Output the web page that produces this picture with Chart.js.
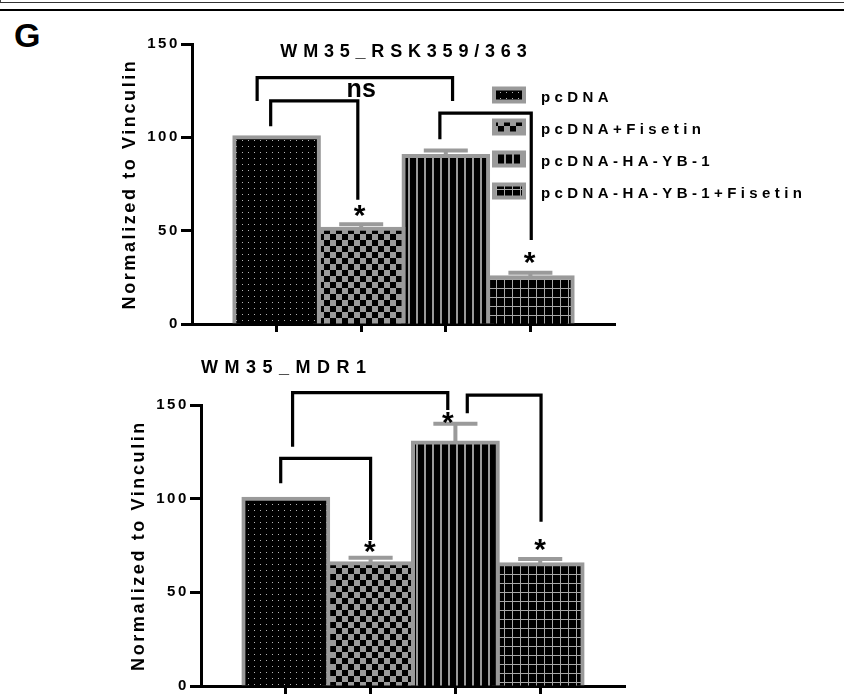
<!DOCTYPE html>
<html>
<head>
<meta charset="utf-8">
<title>WM35 RSK359/363 and MDR1</title>
<script src="https://cdn.jsdelivr.net/npm/chart.js"></script>
<style>
  body { margin: 0; background: #fff; }
  .page { position: relative; width: 844px; height: 697px; overflow: hidden; font-family: "Liberation Sans", Arial, sans-serif; }
  .frame-top { position: absolute; left: 0; top: 0; width: 843px; height: 2px; border-left: 1px solid #444; border-bottom: 1px solid #333; }
  .rule { position: absolute; left: 0; top: 9px; width: 844px; height: 2px; background: #000; }
  .panel-letter { position: absolute; left: 14px; top: 18px; font-size: 34px; line-height: 34px; font-weight: bold; }
  canvas { position: absolute; left: 0; }
</style>
</head>
<body>
<div class="page">
  <div class="frame-top"></div>
  <div class="rule"></div>
  <div class="panel-letter">G</div>
  <canvas id="rsk-chart" width="844" height="340" style="top:0"></canvas>
  <canvas id="mdr-chart" width="844" height="357" style="top:340px"></canvas>
</div>
<script>
  const groups = ['pcDNA', 'pcDNA+Fisetin', 'pcDNA-HA-YB-1', 'pcDNA-HA-YB-1+Fisetin'];
  const rskMeans = [100, 51, 90, 25];
  const rskErrors = [0, 2.5, 3, 2.5];
  const mdrMeans = [100, 65.5, 130, 65];
  const mdrErrors = [0, 3, 10, 2.8];
  const yTicks = [0, 50, 100, 150];

  // significance brackets in axis units: [x from, x to, left leg end, bar level, right leg end]
  const rskBrackets = [
    [-0.23, 2.08, 119.5, 132, 119.5],
    [-0.07, 0.96, 106, 119.5, 66.5],
    [1.93, 3.01, 99, 113, 45]
  ];
  const rskMarks = [
    { text: 'ns', x: 1, y: 125.5, size: 25 },
    { text: '*', x: 0.98, y: 60.5 },
    { text: '*', x: 2.99, y: 35.6 }
  ];
  const mdrBrackets = [
    [0.08, 1.91, 127.7, 156.6, 147.3],
    [2.14, 3.01, 145.6, 155.3, 87.7],
    [-0.06, 1.0, 108.2, 121.5, 77.9]
  ];
  const mdrMarks = [
    { text: '*', x: 0.99, y: 74.4 },
    { text: '*', x: 1.91, y: 142.9 },
    { text: '*', x: 3.0, y: 75.3 }
  ];

  const FONT = '"Liberation Sans", Arial, sans-serif';
  const GREY = '#9a9a9a';
  Chart.defaults.font.family = FONT;
  Chart.defaults.color = '#000';

  function tile(w, h, paint) {
    const c = document.createElement('canvas');
    c.width = w; c.height = h;
    const g = c.getContext('2d');
    g.fillStyle = '#000';
    g.fillRect(0, 0, w, h);
    paint(g);
    return document.createElement('canvas').getContext('2d').createPattern(c, 'repeat');
  }

  const patterns = [
    tile(6, 6, g => { g.fillStyle = '#b4b4b4'; g.fillRect(2, 2, 1, 1); }),
    tile(12, 12, g => { g.fillStyle = GREY; g.fillRect(6, 0, 6, 6); g.fillRect(0, 6, 6, 6); }),
    tile(8, 8, g => { g.fillStyle = GREY; g.fillRect(0, 0, 2, 8); }),
    tile(8, 9, g => { g.fillStyle = '#a8a8a8'; g.fillRect(0, 0, 1, 9); g.fillRect(0, 0, 8, 1); })
  ];

  function spaced(ctx, text, x, y, spacing, align) {
    ctx.letterSpacing = spacing + 'px';
    ctx.textAlign = align;
    const shift = align === 'center' ? spacing / 2 : (align === 'right' ? spacing : 0);
    ctx.fillText(text, x + shift, y);
  }

  const extras = {
    id: 'extras',
    beforeLayout(chart) { chart.ctx.letterSpacing = '2.6px'; },
    beforeDraw(chart) { chart.ctx.letterSpacing = '2.6px'; },
    afterDatasetsDraw(chart, args, opts) {
      const ctx = chart.ctx;
      const y = chart.scales.y;
      ctx.save();
      ctx.strokeStyle = GREY;
      ctx.lineWidth = 4;
      chart.data.datasets.forEach((ds, i) => {
        const err = opts.errors[i];
        if (!err) return;
        const bar = chart.getDatasetMeta(i).data[0];
        const top = y.getPixelForValue(ds.data[0].y + err);
        const half = bar.width * 0.26;
        ctx.beginPath();
        ctx.moveTo(bar.x, bar.y);
        ctx.lineTo(bar.x, top);
        ctx.moveTo(bar.x - half, top);
        ctx.lineTo(bar.x + half, top);
        ctx.stroke();
      });
      ctx.restore();
    },
    afterDraw(chart, args, opts) {
      const ctx = chart.ctx;
      const area = chart.chartArea;
      const px = v => chart.scales.x.getPixelForValue(v);
      const py = v => chart.scales.y.getPixelForValue(v);
      ctx.save();
      ctx.fillStyle = '#000';

      // chart title
      const t = opts.title;
      ctx.font = 'bold ' + t.size + 'px ' + FONT;
      ctx.textBaseline = 'alphabetic';
      const tx = t.align === 'center' ? (area.left + area.right) / 2 : area.left;
      spaced(ctx, t.text, tx, area.top + t.baseline, t.spacing, t.align);

      // brackets
      ctx.strokeStyle = '#000';
      ctx.lineWidth = 3.2;
      ctx.lineJoin = 'miter';
      opts.brackets.forEach(([x1, x2, yl, yt, yr]) => {
        ctx.beginPath();
        ctx.moveTo(px(x1), py(yl));
        ctx.lineTo(px(x1), py(yt));
        ctx.lineTo(px(x2), py(yt));
        ctx.lineTo(px(x2), py(yr));
        ctx.stroke();
      });

      // stars / ns
      ctx.letterSpacing = '0px';
      ctx.textAlign = 'center';
      opts.marks.forEach(m => {
        ctx.font = 'bold ' + (m.size || 30) + 'px ' + FONT;
        const mt = ctx.measureText(m.text);
        const off = (mt.actualBoundingBoxAscent - mt.actualBoundingBoxDescent) / 2;
        ctx.fillText(m.text, px(m.x), py(m.y) + off);
      });

      // legend
      if (opts.legend) {
        const lg = opts.legend;
        ctx.font = 'bold 15px ' + FONT;
        chart.data.datasets.forEach((ds, i) => {
          const lx = area.left + lg.left;
          const cy = area.top + lg.top + i * lg.row;
          ctx.fillStyle = GREY;
          ctx.fillRect(lx, cy - 9.5, 34, 17);
          ctx.fillStyle = ds.backgroundColor;
          ctx.fillRect(lx + 4, cy - 5.5, 26, 9);
          ctx.fillStyle = '#000';
          spaced(ctx, ds.label, lx + 49, cy + 5.5, 4.4, 'left');
        });
      }
      ctx.restore();
    }
  };

  function buildChart(id, means, extraOpts, box) {
    return new Chart(document.getElementById(id), {
      type: 'bar',
      data: {
        datasets: groups.map((g, i) => ({
          label: g,
          data: [{ x: i, y: means[i] }],
          backgroundColor: patterns[i],
          borderColor: GREY,
          borderWidth: 4,
          inflateAmount: 2,
          grouped: false,
          barPercentage: 1,
          categoryPercentage: 1
        }))
      },
      options: {
        responsive: false,
        animation: false,
        events: [],
        layout: { padding: box.padding },
        scales: {
          x: {
            type: 'linear',
            min: -1,
            max: 4,
            offset: false,
            z: 1,
            afterBuildTicks: s => { s.ticks = groups.map((g, i) => ({ value: i })); },
            afterFit: s => { s.height = box.xHeight; },
            border: { display: true, color: '#000', width: 3 },
            grid: { offset: false, drawOnChartArea: false, drawTicks: true, tickLength: 8, tickWidth: 3, tickColor: '#000' },
            ticks: { display: false }
          },
          y: {
            min: 0,
            max: 150,
            z: 1,
            afterBuildTicks: s => { s.ticks = yTicks.map(v => ({ value: v })); },
            afterFit: s => { s.width = 73; },
            border: { display: true, color: '#000', width: 3 },
            grid: { drawOnChartArea: false, drawTicks: true, tickLength: 11, tickWidth: 3, tickColor: '#000' },
            ticks: { font: { size: 15, weight: 'bold' }, color: '#000', padding: 1 },
            title: { display: true, text: 'Normalized to Vinculin', font: { size: 18, weight: 'bold' }, color: '#000', padding: 0 }
          }
        },
        plugins: {
          legend: { display: false },
          tooltip: { enabled: false },
          extras: extraOpts
        }
      },
      plugins: [extras]
    });
  }

  buildChart('rsk-chart', rskMeans, {
    title: { text: 'WM35_RSK359/363', size: 18, spacing: 5.8, align: 'center', baseline: 13 },
    errors: rskErrors,
    brackets: rskBrackets,
    marks: rskMarks,
    legend: { left: 300, top: 52, row: 32 }
  }, { padding: { left: 119, top: 44, right: 229, bottom: 4 }, xHeight: 12 });

  buildChart('mdr-chart', mdrMeans, {
    title: { text: 'WM35_MDR1', size: 18, spacing: 6.5, align: 'left', baseline: -31.7 },
    errors: mdrErrors,
    brackets: mdrBrackets,
    marks: mdrMarks,
    legend: null
  }, { padding: { left: 128, top: 65, right: 219, bottom: 0 }, xHeight: 11 });
</script>
</body>
</html>
